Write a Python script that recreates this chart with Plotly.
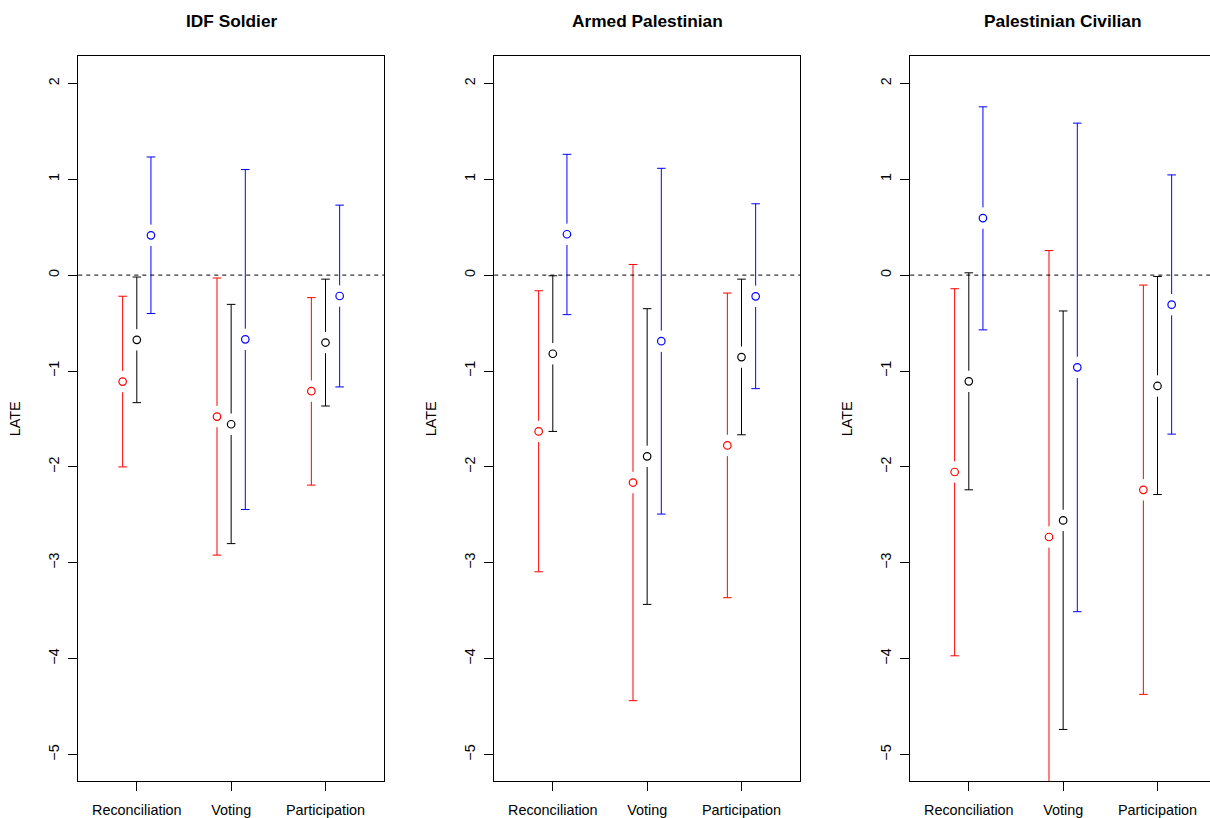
import plotly.graph_objects as go

# Outcome categories and panel titles
outcomes = ["Reconciliation", "Voting", "Participation"]
panel_titles = ["IDF Soldier", "Armed Palestinian", "Palestinian Civilian"]

# Local average treatment effects (point estimate, lower and upper CI bound)
# per panel, for the red, black and blue series.
idf_red_est = [-1.11, -1.475, -1.21]
idf_red_lo = [-2.00, -2.92, -2.19]
idf_red_hi = [-0.22, -0.03, -0.235]
idf_black_est = [-0.675, -1.555, -0.703]
idf_black_lo = [-1.33, -2.80, -1.365]
idf_black_hi = [-0.02, -0.305, -0.042]
idf_blue_est = [0.415, -0.67, -0.218]
idf_blue_lo = [-0.40, -2.444, -1.166]
idf_blue_hi = [1.232, 1.101, 0.73]

arm_red_est = [-1.63, -2.163, -1.776]
arm_red_lo = [-3.094, -4.438, -3.364]
arm_red_hi = [-0.163, 0.111, -0.187]
arm_black_est = [-0.82, -1.89, -0.855]
arm_black_lo = [-1.63, -3.434, -1.665]
arm_black_hi = [-0.007, -0.35, -0.042]
arm_blue_est = [0.426, -0.689, -0.221]
arm_blue_lo = [-0.412, -2.492, -1.184]
arm_blue_hi = [1.26, 1.114, 0.744]

civ_red_est = [-2.053, -2.731, -2.239]
civ_red_lo = [-3.97, -5.718, -4.372]
civ_red_hi = [-0.142, 0.256, -0.104]
civ_black_est = [-1.108, -2.558, -1.156]
civ_black_lo = [-2.239, -4.738, -2.288]
civ_black_hi = [0.024, -0.374, -0.014]
civ_blue_est = [0.595, -0.962, -0.308]
civ_blue_lo = [-0.571, -3.51, -1.658]
civ_blue_hi = [1.755, 1.585, 1.045]

panels = [
    [(idf_red_est, idf_red_lo, idf_red_hi), (idf_black_est, idf_black_lo, idf_black_hi),
     (idf_blue_est, idf_blue_lo, idf_blue_hi)],
    [(arm_red_est, arm_red_lo, arm_red_hi), (arm_black_est, arm_black_lo, arm_black_hi),
     (arm_blue_est, arm_blue_lo, arm_blue_hi)],
    [(civ_red_est, civ_red_lo, civ_red_hi), (civ_black_est, civ_black_lo, civ_black_hi),
     (civ_blue_est, civ_blue_lo, civ_blue_hi)],
]
colors = ["#FF0000", "#000000", "#0000FF"]
offsets = [-0.15, 0.0, 0.15]

W, H = 1210, 818
Y_RANGE = [-5.28, 2.28]
X_RANGE = [0.38, 3.62]
# plot boxes in pixels (left, right); the last one runs off the page edge
boxes = [(78.3, 384.0), (494.3, 800.0), (910.3, 1216.0)]
top_px, bot_px = 56.7, 784.3
px_per_y = (bot_px - top_px) / (Y_RANGE[1] - Y_RANGE[0])
gap = 10.7 / px_per_y  # gap between circle and bar
cap_half = 4.3 / ((boxes[0][1] - boxes[0][0]) / (X_RANGE[1] - X_RANGE[0]))

FONT = "Liberation Sans, Arial, Helvetica, sans-serif"
fig = go.Figure()
annotations = []
shapes = []

for p, series in enumerate(panels):
    xa = "x" if p == 0 else f"x{p + 1}"
    ya = "y" if p == 0 else f"y{p + 1}"
    for (est, lo, hi), col, off in zip(series, colors, offsets):
        lx, ly = [], []
        px, py = [], []
        for i, (e, l, h) in enumerate(zip(est, lo, hi)):
            xc = i + 1 + off
            # lower part of the bar, upper part, and the two caps
            lx += [xc, xc, None, xc, xc, None]
            ly += [l, e - gap, None, e + gap, h, None]
            lx += [xc - cap_half, xc + cap_half, None, xc - cap_half, xc + cap_half, None]
            ly += [l, l, None, h, h, None]
            px.append(xc)
            py.append(e)
        fig.add_trace(go.Scatter(x=lx, y=ly, mode="lines", xaxis=xa, yaxis=ya,
                                 line=dict(color=col, width=1), showlegend=False,
                                 hoverinfo="skip"))
        fig.add_trace(go.Scatter(x=px, y=py, mode="markers", xaxis=xa, yaxis=ya,
                                 marker=dict(symbol="circle-open", size=7.5,
                                             color=col, line=dict(width=1.2, color=col)),
                                 showlegend=False))

    left, right = boxes[p]
    vis_right = min(right, W)
    xr = [X_RANGE[0], X_RANGE[0] + (X_RANGE[1] - X_RANGE[0]) * (vis_right - left) / (right - left)]
    common_axis = dict(showline=True, linecolor="black", linewidth=1, ticks="outside",
                       ticklen=9, tickcolor="black", showgrid=False, zeroline=False,
                       tickfont=dict(family=FONT, size=14.4, color="black"))
    fig.layout[f"xaxis{'' if p == 0 else p + 1}"] = dict(
        common_axis, domain=[left / W, vis_right / W], range=xr,
        tickvals=[1, 2, 3], ticktext=outcomes, mirror=True, anchor=ya,
        ticklabelstandoff=6)
    fig.layout[f"yaxis{'' if p == 0 else p + 1}"] = dict(
        common_axis, domain=[(H - bot_px) / H, (H - top_px) / H], range=Y_RANGE,
        tickvals=[-5, -4, -3, -2, -1, 0, 1, 2], tickangle=-90,
        mirror=(right <= W), anchor=xa, ticklabelstandoff=4)

    # dashed reference line at zero
    shapes.append(dict(type="line", xref=f"{xa} domain", yref=ya, x0=0, x1=1, y0=0, y1=0,
                       line=dict(color="black", width=1, dash="4px,4px")))
    # panel title centred over the full plot box
    annotations.append(dict(text=f"<b>{panel_titles[p]}</b>", xref="paper", yref="paper",
                            x=(left + right) / 2 / W, y=(H - 21) / H, showarrow=False,
                            xanchor="center", yanchor="middle",
                            font=dict(family=FONT, size=17.3, color="black")))
    # y-axis label
    annotations.append(dict(text="LATE", xref="paper", yref="paper",
                            x=(left - 63) / W, y=(H - (top_px + bot_px) / 2) / H,
                            showarrow=False, textangle=-90, xanchor="center",
                            yanchor="middle",
                            font=dict(family=FONT, size=14.4, color="black")))

fig.update_layout(width=W, height=H, margin=dict(l=0, r=0, t=0, b=0),
                  paper_bgcolor="white", plot_bgcolor="white",
                  annotations=annotations, shapes=shapes, showlegend=False)

fig.write_html("out.html")
